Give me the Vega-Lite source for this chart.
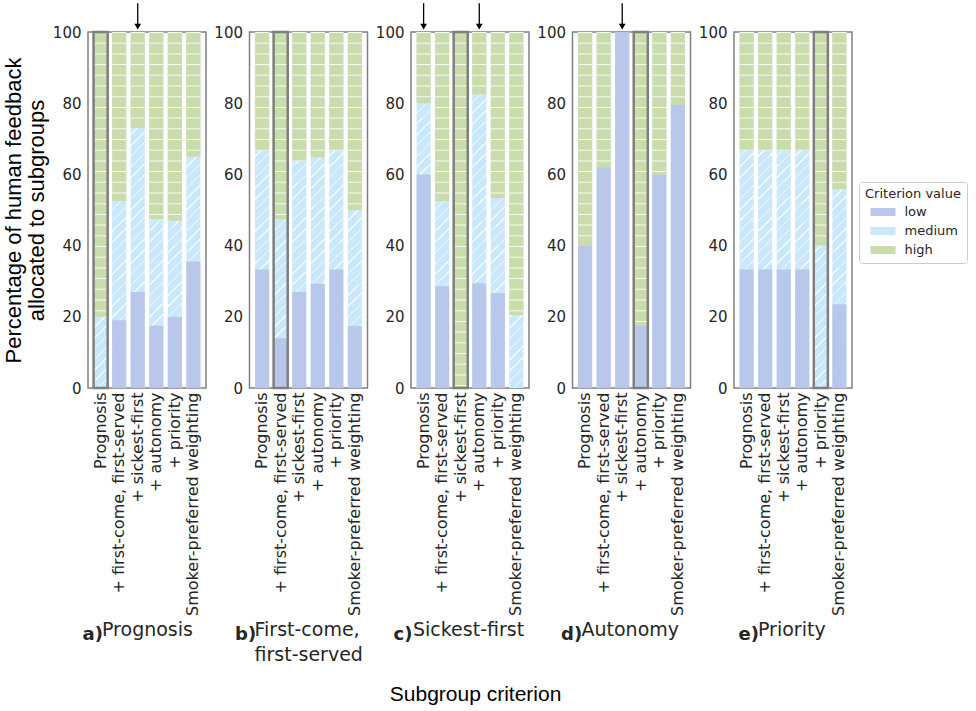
{
"$schema": "https://vega.github.io/schema/vega-lite/v6.json",
"padding": {"left": 1, "top": 1, "right": 5, "bottom": 5},
"datasets": {
"levels": [{"level":"low","rank":1},{"level":"medium","rank":2},{"level":"high","rank":3}],
"highlights": [{"panel":"a","label":"Prognosis"},{"panel":"b","label":"+ first-come, first-served"},{"panel":"c","label":"+ sickest-first"},{"panel":"d","label":"+ autonomy"},{"panel":"e","label":"+ priority"}],
"arrows": [{"panel":"a","label":"+ sickest-first"},{"panel":"c","label":"Prognosis"},{"panel":"c","label":"+ autonomy"},{"panel":"d","label":"+ sickest-first"}],
"bars": [
{"panel":"a","label":"Prognosis","level":"low","value":0},{"panel":"a","label":"Prognosis","level":"medium","value":20},{"panel":"a","label":"Prognosis","level":"high","value":80},
{"panel":"a","label":"+ first-come, first-served","level":"low","value":19},{"panel":"a","label":"+ first-come, first-served","level":"medium","value":33.5},{"panel":"a","label":"+ first-come, first-served","level":"high","value":47.5},
{"panel":"a","label":"+ sickest-first","level":"low","value":27},{"panel":"a","label":"+ sickest-first","level":"medium","value":46},{"panel":"a","label":"+ sickest-first","level":"high","value":27},
{"panel":"a","label":"+ autonomy","level":"low","value":17.5},{"panel":"a","label":"+ autonomy","level":"medium","value":30},{"panel":"a","label":"+ autonomy","level":"high","value":52.5},
{"panel":"a","label":"+ priority","level":"low","value":20},{"panel":"a","label":"+ priority","level":"medium","value":27},{"panel":"a","label":"+ priority","level":"high","value":53},
{"panel":"a","label":"Smoker-preferred weighting","level":"low","value":35.5},{"panel":"a","label":"Smoker-preferred weighting","level":"medium","value":29.5},{"panel":"a","label":"Smoker-preferred weighting","level":"high","value":35},
{"panel":"b","label":"Prognosis","level":"low","value":33.3},{"panel":"b","label":"Prognosis","level":"medium","value":33.4},{"panel":"b","label":"Prognosis","level":"high","value":33.3},
{"panel":"b","label":"+ first-come, first-served","level":"low","value":14},{"panel":"b","label":"+ first-come, first-served","level":"medium","value":33.5},{"panel":"b","label":"+ first-come, first-served","level":"high","value":52.5},
{"panel":"b","label":"+ sickest-first","level":"low","value":27},{"panel":"b","label":"+ sickest-first","level":"medium","value":36.7},{"panel":"b","label":"+ sickest-first","level":"high","value":36.3},
{"panel":"b","label":"+ autonomy","level":"low","value":29.3},{"panel":"b","label":"+ autonomy","level":"medium","value":35.5},{"panel":"b","label":"+ autonomy","level":"high","value":35.2},
{"panel":"b","label":"+ priority","level":"low","value":33.3},{"panel":"b","label":"+ priority","level":"medium","value":33.4},{"panel":"b","label":"+ priority","level":"high","value":33.3},
{"panel":"b","label":"Smoker-preferred weighting","level":"low","value":17.4},{"panel":"b","label":"Smoker-preferred weighting","level":"medium","value":32.6},{"panel":"b","label":"Smoker-preferred weighting","level":"high","value":50},
{"panel":"c","label":"Prognosis","level":"low","value":60},{"panel":"c","label":"Prognosis","level":"medium","value":20},{"panel":"c","label":"Prognosis","level":"high","value":20},
{"panel":"c","label":"+ first-come, first-served","level":"low","value":28.6},{"panel":"c","label":"+ first-come, first-served","level":"medium","value":23.9},{"panel":"c","label":"+ first-come, first-served","level":"high","value":47.5},
{"panel":"c","label":"+ sickest-first","level":"low","value":0},{"panel":"c","label":"+ sickest-first","level":"medium","value":0},{"panel":"c","label":"+ sickest-first","level":"high","value":100},
{"panel":"c","label":"+ autonomy","level":"low","value":29.4},{"panel":"c","label":"+ autonomy","level":"medium","value":53.1},{"panel":"c","label":"+ autonomy","level":"high","value":17.5},
{"panel":"c","label":"+ priority","level":"low","value":26.7},{"panel":"c","label":"+ priority","level":"medium","value":26.6},{"panel":"c","label":"+ priority","level":"high","value":46.7},
{"panel":"c","label":"Smoker-preferred weighting","level":"low","value":0},{"panel":"c","label":"Smoker-preferred weighting","level":"medium","value":20.5},{"panel":"c","label":"Smoker-preferred weighting","level":"high","value":79.5},
{"panel":"d","label":"Prognosis","level":"low","value":40},{"panel":"d","label":"Prognosis","level":"medium","value":0},{"panel":"d","label":"Prognosis","level":"high","value":60},
{"panel":"d","label":"+ first-come, first-served","level":"low","value":62},{"panel":"d","label":"+ first-come, first-served","level":"medium","value":0},{"panel":"d","label":"+ first-come, first-served","level":"high","value":38},
{"panel":"d","label":"+ sickest-first","level":"low","value":100},{"panel":"d","label":"+ sickest-first","level":"medium","value":0},{"panel":"d","label":"+ sickest-first","level":"high","value":0},
{"panel":"d","label":"+ autonomy","level":"low","value":17.6},{"panel":"d","label":"+ autonomy","level":"medium","value":0},{"panel":"d","label":"+ autonomy","level":"high","value":82.4},
{"panel":"d","label":"+ priority","level":"low","value":60},{"panel":"d","label":"+ priority","level":"medium","value":0},{"panel":"d","label":"+ priority","level":"high","value":40},
{"panel":"d","label":"Smoker-preferred weighting","level":"low","value":79.5},{"panel":"d","label":"Smoker-preferred weighting","level":"medium","value":0},{"panel":"d","label":"Smoker-preferred weighting","level":"high","value":20.5},
{"panel":"e","label":"Prognosis","level":"low","value":33.3},{"panel":"e","label":"Prognosis","level":"medium","value":33.4},{"panel":"e","label":"Prognosis","level":"high","value":33.3},
{"panel":"e","label":"+ first-come, first-served","level":"low","value":33.3},{"panel":"e","label":"+ first-come, first-served","level":"medium","value":33.4},{"panel":"e","label":"+ first-come, first-served","level":"high","value":33.3},
{"panel":"e","label":"+ sickest-first","level":"low","value":33.3},{"panel":"e","label":"+ sickest-first","level":"medium","value":33.4},{"panel":"e","label":"+ sickest-first","level":"high","value":33.3},
{"panel":"e","label":"+ autonomy","level":"low","value":33.3},{"panel":"e","label":"+ autonomy","level":"medium","value":33.4},{"panel":"e","label":"+ autonomy","level":"high","value":33.3},
{"panel":"e","label":"+ priority","level":"low","value":0},{"panel":"e","label":"+ priority","level":"medium","value":40},{"panel":"e","label":"+ priority","level":"high","value":60},
{"panel":"e","label":"Smoker-preferred weighting","level":"low","value":23.5},{"panel":"e","label":"Smoker-preferred weighting","level":"medium","value":32.4},{"panel":"e","label":"Smoker-preferred weighting","level":"high","value":44.1}
]
},
"title": {"text": "Subgroup criterion", "orient": "bottom", "anchor": "middle", "dx": -9, "font": "Liberation Sans", "fontSize": 21, "fontWeight": "normal", "color": "black", "offset": 18},
"spacing": 5.5,
"resolve": {"scale": {"color": "shared"}, "legend": {"color": "shared"}},
"hconcat": [
{
"width": 118, "height": 356,
"title": {"text": "Prognosis", "orient": "bottom", "anchor": "start", "frame": "group", "dx": 14, "offset": -22, "font": "DejaVu Sans", "fontSize": 19, "fontWeight": "normal", "color": "#262626"},
"layer": [
{"data": {"name": "bars"}, "transform": [{"filter": "datum.panel == 'a' && datum.level == 'medium'"}],
 "mark": {"type": "bar", "color": "#c9e8fc"},
 "encoding": {
  "x": {"field": "label", "type": "nominal", "sort": ["Prognosis","+ first-come, first-served","+ sickest-first","+ autonomy","+ priority","Smoker-preferred weighting"], "scale": {"type": "band", "paddingInner": 0.24, "paddingOuter": 0.3}, "axis": {"title": "a)", "titleX": -6, "titleY": 246, "titleAlign": "left", "titleBaseline": "middle"}},
  "y": {"datum": 0, "type": "quantitative", "scale": {"domain": [0, 100], "nice": false}, "axis": {"title": ["Percentage of human feedback", "allocated to subgroups"]}},
  "y2": {"datum": 100}}},
{"data": {"name": "bars"}, "transform": [{"filter": "datum.panel == 'a' && datum.level == 'medium'"}],
 "mark": {"type": "bar", "fillOpacity": 0.8, "fill": {"gradient": "linear", "x1": 0, "y1": 0, "x2": 0.0408, "y2": 1.0378, "stops": [
{"offset":0.015,"color":"transparent"},{"offset":0.015,"color":"white"},{"offset":0.019,"color":"white"},{"offset":0.019,"color":"transparent"},
{"offset":0.044,"color":"transparent"},{"offset":0.044,"color":"white"},{"offset":0.048,"color":"white"},{"offset":0.048,"color":"transparent"},
{"offset":0.073,"color":"transparent"},{"offset":0.073,"color":"white"},{"offset":0.077,"color":"white"},{"offset":0.077,"color":"transparent"},
{"offset":0.102,"color":"transparent"},{"offset":0.102,"color":"white"},{"offset":0.106,"color":"white"},{"offset":0.106,"color":"transparent"},
{"offset":0.131,"color":"transparent"},{"offset":0.131,"color":"white"},{"offset":0.135,"color":"white"},{"offset":0.135,"color":"transparent"},
{"offset":0.160,"color":"transparent"},{"offset":0.160,"color":"white"},{"offset":0.164,"color":"white"},{"offset":0.164,"color":"transparent"},
{"offset":0.189,"color":"transparent"},{"offset":0.189,"color":"white"},{"offset":0.193,"color":"white"},{"offset":0.193,"color":"transparent"},
{"offset":0.218,"color":"transparent"},{"offset":0.218,"color":"white"},{"offset":0.222,"color":"white"},{"offset":0.222,"color":"transparent"},
{"offset":0.247,"color":"transparent"},{"offset":0.247,"color":"white"},{"offset":0.251,"color":"white"},{"offset":0.251,"color":"transparent"},
{"offset":0.276,"color":"transparent"},{"offset":0.276,"color":"white"},{"offset":0.280,"color":"white"},{"offset":0.280,"color":"transparent"},
{"offset":0.305,"color":"transparent"},{"offset":0.305,"color":"white"},{"offset":0.309,"color":"white"},{"offset":0.309,"color":"transparent"},
{"offset":0.334,"color":"transparent"},{"offset":0.334,"color":"white"},{"offset":0.338,"color":"white"},{"offset":0.338,"color":"transparent"},
{"offset":0.363,"color":"transparent"},{"offset":0.363,"color":"white"},{"offset":0.367,"color":"white"},{"offset":0.367,"color":"transparent"},
{"offset":0.392,"color":"transparent"},{"offset":0.392,"color":"white"},{"offset":0.396,"color":"white"},{"offset":0.396,"color":"transparent"},
{"offset":0.421,"color":"transparent"},{"offset":0.421,"color":"white"},{"offset":0.425,"color":"white"},{"offset":0.425,"color":"transparent"},
{"offset":0.450,"color":"transparent"},{"offset":0.450,"color":"white"},{"offset":0.454,"color":"white"},{"offset":0.454,"color":"transparent"},
{"offset":0.479,"color":"transparent"},{"offset":0.479,"color":"white"},{"offset":0.483,"color":"white"},{"offset":0.483,"color":"transparent"},
{"offset":0.508,"color":"transparent"},{"offset":0.508,"color":"white"},{"offset":0.512,"color":"white"},{"offset":0.512,"color":"transparent"},
{"offset":0.537,"color":"transparent"},{"offset":0.537,"color":"white"},{"offset":0.541,"color":"white"},{"offset":0.541,"color":"transparent"},
{"offset":0.566,"color":"transparent"},{"offset":0.566,"color":"white"},{"offset":0.570,"color":"white"},{"offset":0.570,"color":"transparent"},
{"offset":0.595,"color":"transparent"},{"offset":0.595,"color":"white"},{"offset":0.599,"color":"white"},{"offset":0.599,"color":"transparent"},
{"offset":0.624,"color":"transparent"},{"offset":0.624,"color":"white"},{"offset":0.628,"color":"white"},{"offset":0.628,"color":"transparent"},
{"offset":0.653,"color":"transparent"},{"offset":0.653,"color":"white"},{"offset":0.657,"color":"white"},{"offset":0.657,"color":"transparent"},
{"offset":0.682,"color":"transparent"},{"offset":0.682,"color":"white"},{"offset":0.686,"color":"white"},{"offset":0.686,"color":"transparent"},
{"offset":0.711,"color":"transparent"},{"offset":0.711,"color":"white"},{"offset":0.715,"color":"white"},{"offset":0.715,"color":"transparent"},
{"offset":0.740,"color":"transparent"},{"offset":0.740,"color":"white"},{"offset":0.744,"color":"white"},{"offset":0.744,"color":"transparent"},
{"offset":0.769,"color":"transparent"},{"offset":0.769,"color":"white"},{"offset":0.773,"color":"white"},{"offset":0.773,"color":"transparent"},
{"offset":0.798,"color":"transparent"},{"offset":0.798,"color":"white"},{"offset":0.802,"color":"white"},{"offset":0.802,"color":"transparent"},
{"offset":0.827,"color":"transparent"},{"offset":0.827,"color":"white"},{"offset":0.831,"color":"white"},{"offset":0.831,"color":"transparent"},
{"offset":0.856,"color":"transparent"},{"offset":0.856,"color":"white"},{"offset":0.860,"color":"white"},{"offset":0.860,"color":"transparent"},
{"offset":0.885,"color":"transparent"},{"offset":0.885,"color":"white"},{"offset":0.889,"color":"white"},{"offset":0.889,"color":"transparent"},
{"offset":0.914,"color":"transparent"},{"offset":0.914,"color":"white"},{"offset":0.918,"color":"white"},{"offset":0.918,"color":"transparent"},
{"offset":0.943,"color":"transparent"},{"offset":0.943,"color":"white"},{"offset":0.947,"color":"white"},{"offset":0.947,"color":"transparent"},
{"offset":0.972,"color":"transparent"},{"offset":0.972,"color":"white"},{"offset":0.976,"color":"white"},{"offset":0.976,"color":"transparent"}
]}},
 "encoding": {
  "x": {"field": "label", "type": "nominal", "sort": ["Prognosis","+ first-come, first-served","+ sickest-first","+ autonomy","+ priority","Smoker-preferred weighting"]},
  "y": {"datum": 0, "type": "quantitative", "scale": {"domain": [0, 100], "nice": false}},
  "y2": {"datum": 100}}},
{"data": {"name": "bars"}, "transform": [{"filter": "datum.panel == 'a'"}, {"lookup": "level", "from": {"data": {"name": "levels"}, "key": "level", "fields": ["rank"]}}, {"stack": "value", "groupby": ["label"], "sort": [{"field": "rank", "order": "ascending"}], "as": ["v0", "v1"]}, {"filter": "datum.level != 'medium'"}],
 "mark": {"type": "bar"},
 "encoding": {
  "x": {"field": "label", "type": "nominal", "sort": ["Prognosis","+ first-come, first-served","+ sickest-first","+ autonomy","+ priority","Smoker-preferred weighting"]},
  "y": {"field": "v0", "type": "quantitative", "scale": {"domain": [0, 100], "nice": false}},
  "y2": {"field": "v1"},
  "color": {"field": "level", "type": "nominal", "scale": {"domain": ["low","medium","high"], "range": ["#b9c7ea","#c9e8fc","#cadcab"]}, "legend": {"title": "Criterion value"}}}},
{"data": {"name": "bars"}, "transform": [{"filter": "datum.panel == 'a'"}, {"lookup": "level", "from": {"data": {"name": "levels"}, "key": "level", "fields": ["rank"]}}, {"stack": "value", "groupby": ["label"], "sort": [{"field": "rank", "order": "ascending"}], "as": ["v0", "v1"]}, {"filter": "datum.level == 'high'"}],
 "mark": {"type": "rule", "color": "white", "strokeWidth": 14, "strokeDash": [1, 9.7], "opacity": 0.85},
 "encoding": {
  "x": {"field": "label", "type": "nominal", "sort": ["Prognosis","+ first-come, first-served","+ sickest-first","+ autonomy","+ priority","Smoker-preferred weighting"]},
  "y": {"field": "v1", "type": "quantitative", "scale": {"domain": [0, 100], "nice": false}},
  "y2": {"field": "v0"}}},
{"data": {"name": "highlights"}, "transform": [{"filter": "datum.panel == 'a'"}],
 "mark": {"type": "bar", "fillOpacity": 0, "stroke": "#7f7f7f", "strokeWidth": 2.5},
 "encoding": {
  "x": {"field": "label", "type": "nominal", "sort": ["Prognosis","+ first-come, first-served","+ sickest-first","+ autonomy","+ priority","Smoker-preferred weighting"]},
  "y": {"datum": 0, "type": "quantitative", "scale": {"domain": [0, 100], "nice": false}},
  "y2": {"datum": 100}}},
{"data": {"name": "arrows"}, "transform": [{"filter": "datum.panel == 'a'"}],
 "mark": {"type": "rule", "color": "black", "strokeWidth": 1.3},
 "encoding": {
  "x": {"field": "label", "type": "nominal", "sort": ["Prognosis","+ first-come, first-served","+ sickest-first","+ autonomy","+ priority","Smoker-preferred weighting"]},
  "y": {"datum": 101.5, "type": "quantitative", "scale": {"domain": [0, 100], "nice": false}},
  "y2": {"datum": 108.1}}},
{"data": {"name": "arrows"}, "transform": [{"filter": "datum.panel == 'a'"}],
 "mark": {"type": "point", "shape": "triangle-down", "filled": true, "color": "black", "size": 45, "opacity": 1},
 "encoding": {
  "x": {"field": "label", "type": "nominal", "sort": ["Prognosis","+ first-come, first-served","+ sickest-first","+ autonomy","+ priority","Smoker-preferred weighting"]},
  "y": {"datum": 101.5, "type": "quantitative", "scale": {"domain": [0, 100], "nice": false}}}}
]
},
{
"width": 118, "height": 356,
"title": {"text": ["First-come,", "first-served"], "orient": "bottom", "anchor": "start", "frame": "group", "dx": 5, "offset": -22, "font": "DejaVu Sans", "fontSize": 19, "fontWeight": "normal", "color": "#262626", "lineHeight": 25},
"layer": [
{"data": {"name": "bars"}, "transform": [{"filter": "datum.panel == 'b' && datum.level == 'medium'"}],
 "mark": {"type": "bar", "color": "#c9e8fc"},
 "encoding": {
  "x": {"field": "label", "type": "nominal", "sort": ["Prognosis","+ first-come, first-served","+ sickest-first","+ autonomy","+ priority","Smoker-preferred weighting"], "scale": {"type": "band", "paddingInner": 0.24, "paddingOuter": 0.3}, "axis": {"title": "b)", "titleX": -15, "titleY": 246, "titleAlign": "left", "titleBaseline": "middle"}},
  "y": {"datum": 0, "type": "quantitative", "scale": {"domain": [0, 100], "nice": false}, "axis": {"title": null}},
  "y2": {"datum": 100}}},
{"data": {"name": "bars"}, "transform": [{"filter": "datum.panel == 'b' && datum.level == 'medium'"}],
 "mark": {"type": "bar", "fillOpacity": 0.8, "fill": {"gradient": "linear", "x1": 0, "y1": 0, "x2": 0.0408, "y2": 1.0378, "stops": [
{"offset":0.015,"color":"transparent"},{"offset":0.015,"color":"white"},{"offset":0.019,"color":"white"},{"offset":0.019,"color":"transparent"},
{"offset":0.044,"color":"transparent"},{"offset":0.044,"color":"white"},{"offset":0.048,"color":"white"},{"offset":0.048,"color":"transparent"},
{"offset":0.073,"color":"transparent"},{"offset":0.073,"color":"white"},{"offset":0.077,"color":"white"},{"offset":0.077,"color":"transparent"},
{"offset":0.102,"color":"transparent"},{"offset":0.102,"color":"white"},{"offset":0.106,"color":"white"},{"offset":0.106,"color":"transparent"},
{"offset":0.131,"color":"transparent"},{"offset":0.131,"color":"white"},{"offset":0.135,"color":"white"},{"offset":0.135,"color":"transparent"},
{"offset":0.160,"color":"transparent"},{"offset":0.160,"color":"white"},{"offset":0.164,"color":"white"},{"offset":0.164,"color":"transparent"},
{"offset":0.189,"color":"transparent"},{"offset":0.189,"color":"white"},{"offset":0.193,"color":"white"},{"offset":0.193,"color":"transparent"},
{"offset":0.218,"color":"transparent"},{"offset":0.218,"color":"white"},{"offset":0.222,"color":"white"},{"offset":0.222,"color":"transparent"},
{"offset":0.247,"color":"transparent"},{"offset":0.247,"color":"white"},{"offset":0.251,"color":"white"},{"offset":0.251,"color":"transparent"},
{"offset":0.276,"color":"transparent"},{"offset":0.276,"color":"white"},{"offset":0.280,"color":"white"},{"offset":0.280,"color":"transparent"},
{"offset":0.305,"color":"transparent"},{"offset":0.305,"color":"white"},{"offset":0.309,"color":"white"},{"offset":0.309,"color":"transparent"},
{"offset":0.334,"color":"transparent"},{"offset":0.334,"color":"white"},{"offset":0.338,"color":"white"},{"offset":0.338,"color":"transparent"},
{"offset":0.363,"color":"transparent"},{"offset":0.363,"color":"white"},{"offset":0.367,"color":"white"},{"offset":0.367,"color":"transparent"},
{"offset":0.392,"color":"transparent"},{"offset":0.392,"color":"white"},{"offset":0.396,"color":"white"},{"offset":0.396,"color":"transparent"},
{"offset":0.421,"color":"transparent"},{"offset":0.421,"color":"white"},{"offset":0.425,"color":"white"},{"offset":0.425,"color":"transparent"},
{"offset":0.450,"color":"transparent"},{"offset":0.450,"color":"white"},{"offset":0.454,"color":"white"},{"offset":0.454,"color":"transparent"},
{"offset":0.479,"color":"transparent"},{"offset":0.479,"color":"white"},{"offset":0.483,"color":"white"},{"offset":0.483,"color":"transparent"},
{"offset":0.508,"color":"transparent"},{"offset":0.508,"color":"white"},{"offset":0.512,"color":"white"},{"offset":0.512,"color":"transparent"},
{"offset":0.537,"color":"transparent"},{"offset":0.537,"color":"white"},{"offset":0.541,"color":"white"},{"offset":0.541,"color":"transparent"},
{"offset":0.566,"color":"transparent"},{"offset":0.566,"color":"white"},{"offset":0.570,"color":"white"},{"offset":0.570,"color":"transparent"},
{"offset":0.595,"color":"transparent"},{"offset":0.595,"color":"white"},{"offset":0.599,"color":"white"},{"offset":0.599,"color":"transparent"},
{"offset":0.624,"color":"transparent"},{"offset":0.624,"color":"white"},{"offset":0.628,"color":"white"},{"offset":0.628,"color":"transparent"},
{"offset":0.653,"color":"transparent"},{"offset":0.653,"color":"white"},{"offset":0.657,"color":"white"},{"offset":0.657,"color":"transparent"},
{"offset":0.682,"color":"transparent"},{"offset":0.682,"color":"white"},{"offset":0.686,"color":"white"},{"offset":0.686,"color":"transparent"},
{"offset":0.711,"color":"transparent"},{"offset":0.711,"color":"white"},{"offset":0.715,"color":"white"},{"offset":0.715,"color":"transparent"},
{"offset":0.740,"color":"transparent"},{"offset":0.740,"color":"white"},{"offset":0.744,"color":"white"},{"offset":0.744,"color":"transparent"},
{"offset":0.769,"color":"transparent"},{"offset":0.769,"color":"white"},{"offset":0.773,"color":"white"},{"offset":0.773,"color":"transparent"},
{"offset":0.798,"color":"transparent"},{"offset":0.798,"color":"white"},{"offset":0.802,"color":"white"},{"offset":0.802,"color":"transparent"},
{"offset":0.827,"color":"transparent"},{"offset":0.827,"color":"white"},{"offset":0.831,"color":"white"},{"offset":0.831,"color":"transparent"},
{"offset":0.856,"color":"transparent"},{"offset":0.856,"color":"white"},{"offset":0.860,"color":"white"},{"offset":0.860,"color":"transparent"},
{"offset":0.885,"color":"transparent"},{"offset":0.885,"color":"white"},{"offset":0.889,"color":"white"},{"offset":0.889,"color":"transparent"},
{"offset":0.914,"color":"transparent"},{"offset":0.914,"color":"white"},{"offset":0.918,"color":"white"},{"offset":0.918,"color":"transparent"},
{"offset":0.943,"color":"transparent"},{"offset":0.943,"color":"white"},{"offset":0.947,"color":"white"},{"offset":0.947,"color":"transparent"},
{"offset":0.972,"color":"transparent"},{"offset":0.972,"color":"white"},{"offset":0.976,"color":"white"},{"offset":0.976,"color":"transparent"}
]}},
 "encoding": {
  "x": {"field": "label", "type": "nominal", "sort": ["Prognosis","+ first-come, first-served","+ sickest-first","+ autonomy","+ priority","Smoker-preferred weighting"]},
  "y": {"datum": 0, "type": "quantitative", "scale": {"domain": [0, 100], "nice": false}},
  "y2": {"datum": 100}}},
{"data": {"name": "bars"}, "transform": [{"filter": "datum.panel == 'b'"}, {"lookup": "level", "from": {"data": {"name": "levels"}, "key": "level", "fields": ["rank"]}}, {"stack": "value", "groupby": ["label"], "sort": [{"field": "rank", "order": "ascending"}], "as": ["v0", "v1"]}, {"filter": "datum.level != 'medium'"}],
 "mark": {"type": "bar"},
 "encoding": {
  "x": {"field": "label", "type": "nominal", "sort": ["Prognosis","+ first-come, first-served","+ sickest-first","+ autonomy","+ priority","Smoker-preferred weighting"]},
  "y": {"field": "v0", "type": "quantitative", "scale": {"domain": [0, 100], "nice": false}},
  "y2": {"field": "v1"},
  "color": {"field": "level", "type": "nominal", "scale": {"domain": ["low","medium","high"], "range": ["#b9c7ea","#c9e8fc","#cadcab"]}, "legend": {"title": "Criterion value"}}}},
{"data": {"name": "bars"}, "transform": [{"filter": "datum.panel == 'b'"}, {"lookup": "level", "from": {"data": {"name": "levels"}, "key": "level", "fields": ["rank"]}}, {"stack": "value", "groupby": ["label"], "sort": [{"field": "rank", "order": "ascending"}], "as": ["v0", "v1"]}, {"filter": "datum.level == 'high'"}],
 "mark": {"type": "rule", "color": "white", "strokeWidth": 14, "strokeDash": [1, 9.7], "opacity": 0.85},
 "encoding": {
  "x": {"field": "label", "type": "nominal", "sort": ["Prognosis","+ first-come, first-served","+ sickest-first","+ autonomy","+ priority","Smoker-preferred weighting"]},
  "y": {"field": "v1", "type": "quantitative", "scale": {"domain": [0, 100], "nice": false}},
  "y2": {"field": "v0"}}},
{"data": {"name": "highlights"}, "transform": [{"filter": "datum.panel == 'b'"}],
 "mark": {"type": "bar", "fillOpacity": 0, "stroke": "#7f7f7f", "strokeWidth": 2.5},
 "encoding": {
  "x": {"field": "label", "type": "nominal", "sort": ["Prognosis","+ first-come, first-served","+ sickest-first","+ autonomy","+ priority","Smoker-preferred weighting"]},
  "y": {"datum": 0, "type": "quantitative", "scale": {"domain": [0, 100], "nice": false}},
  "y2": {"datum": 100}}}
]
},
{
"width": 118, "height": 356,
"title": {"text": "Sickest-first", "orient": "bottom", "anchor": "start", "frame": "group", "dx": 2, "offset": -22, "font": "DejaVu Sans", "fontSize": 19, "fontWeight": "normal", "color": "#262626"},
"layer": [
{"data": {"name": "bars"}, "transform": [{"filter": "datum.panel == 'c' && datum.level == 'medium'"}],
 "mark": {"type": "bar", "color": "#c9e8fc"},
 "encoding": {
  "x": {"field": "label", "type": "nominal", "sort": ["Prognosis","+ first-come, first-served","+ sickest-first","+ autonomy","+ priority","Smoker-preferred weighting"], "scale": {"type": "band", "paddingInner": 0.24, "paddingOuter": 0.3}, "axis": {"title": "c)", "titleX": -18, "titleY": 246, "titleAlign": "left", "titleBaseline": "middle"}},
  "y": {"datum": 0, "type": "quantitative", "scale": {"domain": [0, 100], "nice": false}, "axis": {"title": null}},
  "y2": {"datum": 100}}},
{"data": {"name": "bars"}, "transform": [{"filter": "datum.panel == 'c' && datum.level == 'medium'"}],
 "mark": {"type": "bar", "fillOpacity": 0.8, "fill": {"gradient": "linear", "x1": 0, "y1": 0, "x2": 0.0408, "y2": 1.0378, "stops": [
{"offset":0.015,"color":"transparent"},{"offset":0.015,"color":"white"},{"offset":0.019,"color":"white"},{"offset":0.019,"color":"transparent"},
{"offset":0.044,"color":"transparent"},{"offset":0.044,"color":"white"},{"offset":0.048,"color":"white"},{"offset":0.048,"color":"transparent"},
{"offset":0.073,"color":"transparent"},{"offset":0.073,"color":"white"},{"offset":0.077,"color":"white"},{"offset":0.077,"color":"transparent"},
{"offset":0.102,"color":"transparent"},{"offset":0.102,"color":"white"},{"offset":0.106,"color":"white"},{"offset":0.106,"color":"transparent"},
{"offset":0.131,"color":"transparent"},{"offset":0.131,"color":"white"},{"offset":0.135,"color":"white"},{"offset":0.135,"color":"transparent"},
{"offset":0.160,"color":"transparent"},{"offset":0.160,"color":"white"},{"offset":0.164,"color":"white"},{"offset":0.164,"color":"transparent"},
{"offset":0.189,"color":"transparent"},{"offset":0.189,"color":"white"},{"offset":0.193,"color":"white"},{"offset":0.193,"color":"transparent"},
{"offset":0.218,"color":"transparent"},{"offset":0.218,"color":"white"},{"offset":0.222,"color":"white"},{"offset":0.222,"color":"transparent"},
{"offset":0.247,"color":"transparent"},{"offset":0.247,"color":"white"},{"offset":0.251,"color":"white"},{"offset":0.251,"color":"transparent"},
{"offset":0.276,"color":"transparent"},{"offset":0.276,"color":"white"},{"offset":0.280,"color":"white"},{"offset":0.280,"color":"transparent"},
{"offset":0.305,"color":"transparent"},{"offset":0.305,"color":"white"},{"offset":0.309,"color":"white"},{"offset":0.309,"color":"transparent"},
{"offset":0.334,"color":"transparent"},{"offset":0.334,"color":"white"},{"offset":0.338,"color":"white"},{"offset":0.338,"color":"transparent"},
{"offset":0.363,"color":"transparent"},{"offset":0.363,"color":"white"},{"offset":0.367,"color":"white"},{"offset":0.367,"color":"transparent"},
{"offset":0.392,"color":"transparent"},{"offset":0.392,"color":"white"},{"offset":0.396,"color":"white"},{"offset":0.396,"color":"transparent"},
{"offset":0.421,"color":"transparent"},{"offset":0.421,"color":"white"},{"offset":0.425,"color":"white"},{"offset":0.425,"color":"transparent"},
{"offset":0.450,"color":"transparent"},{"offset":0.450,"color":"white"},{"offset":0.454,"color":"white"},{"offset":0.454,"color":"transparent"},
{"offset":0.479,"color":"transparent"},{"offset":0.479,"color":"white"},{"offset":0.483,"color":"white"},{"offset":0.483,"color":"transparent"},
{"offset":0.508,"color":"transparent"},{"offset":0.508,"color":"white"},{"offset":0.512,"color":"white"},{"offset":0.512,"color":"transparent"},
{"offset":0.537,"color":"transparent"},{"offset":0.537,"color":"white"},{"offset":0.541,"color":"white"},{"offset":0.541,"color":"transparent"},
{"offset":0.566,"color":"transparent"},{"offset":0.566,"color":"white"},{"offset":0.570,"color":"white"},{"offset":0.570,"color":"transparent"},
{"offset":0.595,"color":"transparent"},{"offset":0.595,"color":"white"},{"offset":0.599,"color":"white"},{"offset":0.599,"color":"transparent"},
{"offset":0.624,"color":"transparent"},{"offset":0.624,"color":"white"},{"offset":0.628,"color":"white"},{"offset":0.628,"color":"transparent"},
{"offset":0.653,"color":"transparent"},{"offset":0.653,"color":"white"},{"offset":0.657,"color":"white"},{"offset":0.657,"color":"transparent"},
{"offset":0.682,"color":"transparent"},{"offset":0.682,"color":"white"},{"offset":0.686,"color":"white"},{"offset":0.686,"color":"transparent"},
{"offset":0.711,"color":"transparent"},{"offset":0.711,"color":"white"},{"offset":0.715,"color":"white"},{"offset":0.715,"color":"transparent"},
{"offset":0.740,"color":"transparent"},{"offset":0.740,"color":"white"},{"offset":0.744,"color":"white"},{"offset":0.744,"color":"transparent"},
{"offset":0.769,"color":"transparent"},{"offset":0.769,"color":"white"},{"offset":0.773,"color":"white"},{"offset":0.773,"color":"transparent"},
{"offset":0.798,"color":"transparent"},{"offset":0.798,"color":"white"},{"offset":0.802,"color":"white"},{"offset":0.802,"color":"transparent"},
{"offset":0.827,"color":"transparent"},{"offset":0.827,"color":"white"},{"offset":0.831,"color":"white"},{"offset":0.831,"color":"transparent"},
{"offset":0.856,"color":"transparent"},{"offset":0.856,"color":"white"},{"offset":0.860,"color":"white"},{"offset":0.860,"color":"transparent"},
{"offset":0.885,"color":"transparent"},{"offset":0.885,"color":"white"},{"offset":0.889,"color":"white"},{"offset":0.889,"color":"transparent"},
{"offset":0.914,"color":"transparent"},{"offset":0.914,"color":"white"},{"offset":0.918,"color":"white"},{"offset":0.918,"color":"transparent"},
{"offset":0.943,"color":"transparent"},{"offset":0.943,"color":"white"},{"offset":0.947,"color":"white"},{"offset":0.947,"color":"transparent"},
{"offset":0.972,"color":"transparent"},{"offset":0.972,"color":"white"},{"offset":0.976,"color":"white"},{"offset":0.976,"color":"transparent"}
]}},
 "encoding": {
  "x": {"field": "label", "type": "nominal", "sort": ["Prognosis","+ first-come, first-served","+ sickest-first","+ autonomy","+ priority","Smoker-preferred weighting"]},
  "y": {"datum": 0, "type": "quantitative", "scale": {"domain": [0, 100], "nice": false}},
  "y2": {"datum": 100}}},
{"data": {"name": "bars"}, "transform": [{"filter": "datum.panel == 'c'"}, {"lookup": "level", "from": {"data": {"name": "levels"}, "key": "level", "fields": ["rank"]}}, {"stack": "value", "groupby": ["label"], "sort": [{"field": "rank", "order": "ascending"}], "as": ["v0", "v1"]}, {"filter": "datum.level != 'medium'"}],
 "mark": {"type": "bar"},
 "encoding": {
  "x": {"field": "label", "type": "nominal", "sort": ["Prognosis","+ first-come, first-served","+ sickest-first","+ autonomy","+ priority","Smoker-preferred weighting"]},
  "y": {"field": "v0", "type": "quantitative", "scale": {"domain": [0, 100], "nice": false}},
  "y2": {"field": "v1"},
  "color": {"field": "level", "type": "nominal", "scale": {"domain": ["low","medium","high"], "range": ["#b9c7ea","#c9e8fc","#cadcab"]}, "legend": {"title": "Criterion value"}}}},
{"data": {"name": "bars"}, "transform": [{"filter": "datum.panel == 'c'"}, {"lookup": "level", "from": {"data": {"name": "levels"}, "key": "level", "fields": ["rank"]}}, {"stack": "value", "groupby": ["label"], "sort": [{"field": "rank", "order": "ascending"}], "as": ["v0", "v1"]}, {"filter": "datum.level == 'high'"}],
 "mark": {"type": "rule", "color": "white", "strokeWidth": 14, "strokeDash": [1, 9.7], "opacity": 0.85},
 "encoding": {
  "x": {"field": "label", "type": "nominal", "sort": ["Prognosis","+ first-come, first-served","+ sickest-first","+ autonomy","+ priority","Smoker-preferred weighting"]},
  "y": {"field": "v1", "type": "quantitative", "scale": {"domain": [0, 100], "nice": false}},
  "y2": {"field": "v0"}}},
{"data": {"name": "highlights"}, "transform": [{"filter": "datum.panel == 'c'"}],
 "mark": {"type": "bar", "fillOpacity": 0, "stroke": "#7f7f7f", "strokeWidth": 2.5},
 "encoding": {
  "x": {"field": "label", "type": "nominal", "sort": ["Prognosis","+ first-come, first-served","+ sickest-first","+ autonomy","+ priority","Smoker-preferred weighting"]},
  "y": {"datum": 0, "type": "quantitative", "scale": {"domain": [0, 100], "nice": false}},
  "y2": {"datum": 100}}},
{"data": {"name": "arrows"}, "transform": [{"filter": "datum.panel == 'c'"}],
 "mark": {"type": "rule", "color": "black", "strokeWidth": 1.3},
 "encoding": {
  "x": {"field": "label", "type": "nominal", "sort": ["Prognosis","+ first-come, first-served","+ sickest-first","+ autonomy","+ priority","Smoker-preferred weighting"]},
  "y": {"datum": 101.5, "type": "quantitative", "scale": {"domain": [0, 100], "nice": false}},
  "y2": {"datum": 108.1}}},
{"data": {"name": "arrows"}, "transform": [{"filter": "datum.panel == 'c'"}],
 "mark": {"type": "point", "shape": "triangle-down", "filled": true, "color": "black", "size": 45, "opacity": 1},
 "encoding": {
  "x": {"field": "label", "type": "nominal", "sort": ["Prognosis","+ first-come, first-served","+ sickest-first","+ autonomy","+ priority","Smoker-preferred weighting"]},
  "y": {"datum": 101.5, "type": "quantitative", "scale": {"domain": [0, 100], "nice": false}}}}
]
},
{
"width": 118, "height": 356,
"title": {"text": "Autonomy", "orient": "bottom", "anchor": "start", "frame": "group", "dx": 9, "offset": -22, "font": "DejaVu Sans", "fontSize": 19, "fontWeight": "normal", "color": "#262626"},
"layer": [
{"data": {"name": "bars"}, "transform": [{"filter": "datum.panel == 'd' && datum.level == 'medium'"}],
 "mark": {"type": "bar", "color": "#c9e8fc"},
 "encoding": {
  "x": {"field": "label", "type": "nominal", "sort": ["Prognosis","+ first-come, first-served","+ sickest-first","+ autonomy","+ priority","Smoker-preferred weighting"], "scale": {"type": "band", "paddingInner": 0.24, "paddingOuter": 0.3}, "axis": {"title": "d)", "titleX": -12, "titleY": 246, "titleAlign": "left", "titleBaseline": "middle"}},
  "y": {"datum": 0, "type": "quantitative", "scale": {"domain": [0, 100], "nice": false}, "axis": {"title": null}},
  "y2": {"datum": 100}}},
{"data": {"name": "bars"}, "transform": [{"filter": "datum.panel == 'd'"}, {"lookup": "level", "from": {"data": {"name": "levels"}, "key": "level", "fields": ["rank"]}}, {"stack": "value", "groupby": ["label"], "sort": [{"field": "rank", "order": "ascending"}], "as": ["v0", "v1"]}, {"filter": "datum.level != 'medium'"}],
 "mark": {"type": "bar"},
 "encoding": {
  "x": {"field": "label", "type": "nominal", "sort": ["Prognosis","+ first-come, first-served","+ sickest-first","+ autonomy","+ priority","Smoker-preferred weighting"]},
  "y": {"field": "v0", "type": "quantitative", "scale": {"domain": [0, 100], "nice": false}},
  "y2": {"field": "v1"},
  "color": {"field": "level", "type": "nominal", "scale": {"domain": ["low","medium","high"], "range": ["#b9c7ea","#c9e8fc","#cadcab"]}, "legend": {"title": "Criterion value"}}}},
{"data": {"name": "bars"}, "transform": [{"filter": "datum.panel == 'd'"}, {"lookup": "level", "from": {"data": {"name": "levels"}, "key": "level", "fields": ["rank"]}}, {"stack": "value", "groupby": ["label"], "sort": [{"field": "rank", "order": "ascending"}], "as": ["v0", "v1"]}, {"filter": "datum.level == 'high'"}],
 "mark": {"type": "rule", "color": "white", "strokeWidth": 14, "strokeDash": [1, 9.7], "opacity": 0.85},
 "encoding": {
  "x": {"field": "label", "type": "nominal", "sort": ["Prognosis","+ first-come, first-served","+ sickest-first","+ autonomy","+ priority","Smoker-preferred weighting"]},
  "y": {"field": "v1", "type": "quantitative", "scale": {"domain": [0, 100], "nice": false}},
  "y2": {"field": "v0"}}},
{"data": {"name": "highlights"}, "transform": [{"filter": "datum.panel == 'd'"}],
 "mark": {"type": "bar", "fillOpacity": 0, "stroke": "#7f7f7f", "strokeWidth": 2.5},
 "encoding": {
  "x": {"field": "label", "type": "nominal", "sort": ["Prognosis","+ first-come, first-served","+ sickest-first","+ autonomy","+ priority","Smoker-preferred weighting"]},
  "y": {"datum": 0, "type": "quantitative", "scale": {"domain": [0, 100], "nice": false}},
  "y2": {"datum": 100}}},
{"data": {"name": "arrows"}, "transform": [{"filter": "datum.panel == 'd'"}],
 "mark": {"type": "rule", "color": "black", "strokeWidth": 1.3},
 "encoding": {
  "x": {"field": "label", "type": "nominal", "sort": ["Prognosis","+ first-come, first-served","+ sickest-first","+ autonomy","+ priority","Smoker-preferred weighting"]},
  "y": {"datum": 101.5, "type": "quantitative", "scale": {"domain": [0, 100], "nice": false}},
  "y2": {"datum": 108.1}}},
{"data": {"name": "arrows"}, "transform": [{"filter": "datum.panel == 'd'"}],
 "mark": {"type": "point", "shape": "triangle-down", "filled": true, "color": "black", "size": 45, "opacity": 1},
 "encoding": {
  "x": {"field": "label", "type": "nominal", "sort": ["Prognosis","+ first-come, first-served","+ sickest-first","+ autonomy","+ priority","Smoker-preferred weighting"]},
  "y": {"datum": 101.5, "type": "quantitative", "scale": {"domain": [0, 100], "nice": false}}}}
]
},
{
"width": 118, "height": 356,
"title": {"text": "Priority", "orient": "bottom", "anchor": "start", "frame": "group", "dx": 24, "offset": -22, "font": "DejaVu Sans", "fontSize": 19, "fontWeight": "normal", "color": "#262626"},
"layer": [
{"data": {"name": "bars"}, "transform": [{"filter": "datum.panel == 'e' && datum.level == 'medium'"}],
 "mark": {"type": "bar", "color": "#c9e8fc"},
 "encoding": {
  "x": {"field": "label", "type": "nominal", "sort": ["Prognosis","+ first-come, first-served","+ sickest-first","+ autonomy","+ priority","Smoker-preferred weighting"], "scale": {"type": "band", "paddingInner": 0.24, "paddingOuter": 0.3}, "axis": {"title": "e)", "titleX": 4, "titleY": 246, "titleAlign": "left", "titleBaseline": "middle"}},
  "y": {"datum": 0, "type": "quantitative", "scale": {"domain": [0, 100], "nice": false}, "axis": {"title": null}},
  "y2": {"datum": 100}}},
{"data": {"name": "bars"}, "transform": [{"filter": "datum.panel == 'e' && datum.level == 'medium'"}],
 "mark": {"type": "bar", "fillOpacity": 0.8, "fill": {"gradient": "linear", "x1": 0, "y1": 0, "x2": 0.0408, "y2": 1.0378, "stops": [
{"offset":0.015,"color":"transparent"},{"offset":0.015,"color":"white"},{"offset":0.019,"color":"white"},{"offset":0.019,"color":"transparent"},
{"offset":0.044,"color":"transparent"},{"offset":0.044,"color":"white"},{"offset":0.048,"color":"white"},{"offset":0.048,"color":"transparent"},
{"offset":0.073,"color":"transparent"},{"offset":0.073,"color":"white"},{"offset":0.077,"color":"white"},{"offset":0.077,"color":"transparent"},
{"offset":0.102,"color":"transparent"},{"offset":0.102,"color":"white"},{"offset":0.106,"color":"white"},{"offset":0.106,"color":"transparent"},
{"offset":0.131,"color":"transparent"},{"offset":0.131,"color":"white"},{"offset":0.135,"color":"white"},{"offset":0.135,"color":"transparent"},
{"offset":0.160,"color":"transparent"},{"offset":0.160,"color":"white"},{"offset":0.164,"color":"white"},{"offset":0.164,"color":"transparent"},
{"offset":0.189,"color":"transparent"},{"offset":0.189,"color":"white"},{"offset":0.193,"color":"white"},{"offset":0.193,"color":"transparent"},
{"offset":0.218,"color":"transparent"},{"offset":0.218,"color":"white"},{"offset":0.222,"color":"white"},{"offset":0.222,"color":"transparent"},
{"offset":0.247,"color":"transparent"},{"offset":0.247,"color":"white"},{"offset":0.251,"color":"white"},{"offset":0.251,"color":"transparent"},
{"offset":0.276,"color":"transparent"},{"offset":0.276,"color":"white"},{"offset":0.280,"color":"white"},{"offset":0.280,"color":"transparent"},
{"offset":0.305,"color":"transparent"},{"offset":0.305,"color":"white"},{"offset":0.309,"color":"white"},{"offset":0.309,"color":"transparent"},
{"offset":0.334,"color":"transparent"},{"offset":0.334,"color":"white"},{"offset":0.338,"color":"white"},{"offset":0.338,"color":"transparent"},
{"offset":0.363,"color":"transparent"},{"offset":0.363,"color":"white"},{"offset":0.367,"color":"white"},{"offset":0.367,"color":"transparent"},
{"offset":0.392,"color":"transparent"},{"offset":0.392,"color":"white"},{"offset":0.396,"color":"white"},{"offset":0.396,"color":"transparent"},
{"offset":0.421,"color":"transparent"},{"offset":0.421,"color":"white"},{"offset":0.425,"color":"white"},{"offset":0.425,"color":"transparent"},
{"offset":0.450,"color":"transparent"},{"offset":0.450,"color":"white"},{"offset":0.454,"color":"white"},{"offset":0.454,"color":"transparent"},
{"offset":0.479,"color":"transparent"},{"offset":0.479,"color":"white"},{"offset":0.483,"color":"white"},{"offset":0.483,"color":"transparent"},
{"offset":0.508,"color":"transparent"},{"offset":0.508,"color":"white"},{"offset":0.512,"color":"white"},{"offset":0.512,"color":"transparent"},
{"offset":0.537,"color":"transparent"},{"offset":0.537,"color":"white"},{"offset":0.541,"color":"white"},{"offset":0.541,"color":"transparent"},
{"offset":0.566,"color":"transparent"},{"offset":0.566,"color":"white"},{"offset":0.570,"color":"white"},{"offset":0.570,"color":"transparent"},
{"offset":0.595,"color":"transparent"},{"offset":0.595,"color":"white"},{"offset":0.599,"color":"white"},{"offset":0.599,"color":"transparent"},
{"offset":0.624,"color":"transparent"},{"offset":0.624,"color":"white"},{"offset":0.628,"color":"white"},{"offset":0.628,"color":"transparent"},
{"offset":0.653,"color":"transparent"},{"offset":0.653,"color":"white"},{"offset":0.657,"color":"white"},{"offset":0.657,"color":"transparent"},
{"offset":0.682,"color":"transparent"},{"offset":0.682,"color":"white"},{"offset":0.686,"color":"white"},{"offset":0.686,"color":"transparent"},
{"offset":0.711,"color":"transparent"},{"offset":0.711,"color":"white"},{"offset":0.715,"color":"white"},{"offset":0.715,"color":"transparent"},
{"offset":0.740,"color":"transparent"},{"offset":0.740,"color":"white"},{"offset":0.744,"color":"white"},{"offset":0.744,"color":"transparent"},
{"offset":0.769,"color":"transparent"},{"offset":0.769,"color":"white"},{"offset":0.773,"color":"white"},{"offset":0.773,"color":"transparent"},
{"offset":0.798,"color":"transparent"},{"offset":0.798,"color":"white"},{"offset":0.802,"color":"white"},{"offset":0.802,"color":"transparent"},
{"offset":0.827,"color":"transparent"},{"offset":0.827,"color":"white"},{"offset":0.831,"color":"white"},{"offset":0.831,"color":"transparent"},
{"offset":0.856,"color":"transparent"},{"offset":0.856,"color":"white"},{"offset":0.860,"color":"white"},{"offset":0.860,"color":"transparent"},
{"offset":0.885,"color":"transparent"},{"offset":0.885,"color":"white"},{"offset":0.889,"color":"white"},{"offset":0.889,"color":"transparent"},
{"offset":0.914,"color":"transparent"},{"offset":0.914,"color":"white"},{"offset":0.918,"color":"white"},{"offset":0.918,"color":"transparent"},
{"offset":0.943,"color":"transparent"},{"offset":0.943,"color":"white"},{"offset":0.947,"color":"white"},{"offset":0.947,"color":"transparent"},
{"offset":0.972,"color":"transparent"},{"offset":0.972,"color":"white"},{"offset":0.976,"color":"white"},{"offset":0.976,"color":"transparent"}
]}},
 "encoding": {
  "x": {"field": "label", "type": "nominal", "sort": ["Prognosis","+ first-come, first-served","+ sickest-first","+ autonomy","+ priority","Smoker-preferred weighting"]},
  "y": {"datum": 0, "type": "quantitative", "scale": {"domain": [0, 100], "nice": false}},
  "y2": {"datum": 100}}},
{"data": {"name": "bars"}, "transform": [{"filter": "datum.panel == 'e'"}, {"lookup": "level", "from": {"data": {"name": "levels"}, "key": "level", "fields": ["rank"]}}, {"stack": "value", "groupby": ["label"], "sort": [{"field": "rank", "order": "ascending"}], "as": ["v0", "v1"]}, {"filter": "datum.level != 'medium'"}],
 "mark": {"type": "bar"},
 "encoding": {
  "x": {"field": "label", "type": "nominal", "sort": ["Prognosis","+ first-come, first-served","+ sickest-first","+ autonomy","+ priority","Smoker-preferred weighting"]},
  "y": {"field": "v0", "type": "quantitative", "scale": {"domain": [0, 100], "nice": false}},
  "y2": {"field": "v1"},
  "color": {"field": "level", "type": "nominal", "scale": {"domain": ["low","medium","high"], "range": ["#b9c7ea","#c9e8fc","#cadcab"]}, "legend": {"title": "Criterion value"}}}},
{"data": {"name": "bars"}, "transform": [{"filter": "datum.panel == 'e'"}, {"lookup": "level", "from": {"data": {"name": "levels"}, "key": "level", "fields": ["rank"]}}, {"stack": "value", "groupby": ["label"], "sort": [{"field": "rank", "order": "ascending"}], "as": ["v0", "v1"]}, {"filter": "datum.level == 'high'"}],
 "mark": {"type": "rule", "color": "white", "strokeWidth": 14, "strokeDash": [1, 9.7], "opacity": 0.85},
 "encoding": {
  "x": {"field": "label", "type": "nominal", "sort": ["Prognosis","+ first-come, first-served","+ sickest-first","+ autonomy","+ priority","Smoker-preferred weighting"]},
  "y": {"field": "v1", "type": "quantitative", "scale": {"domain": [0, 100], "nice": false}},
  "y2": {"field": "v0"}}},
{"data": {"name": "highlights"}, "transform": [{"filter": "datum.panel == 'e'"}],
 "mark": {"type": "bar", "fillOpacity": 0, "stroke": "#7f7f7f", "strokeWidth": 2.5},
 "encoding": {
  "x": {"field": "label", "type": "nominal", "sort": ["Prognosis","+ first-come, first-served","+ sickest-first","+ autonomy","+ priority","Smoker-preferred weighting"]},
  "y": {"datum": 0, "type": "quantitative", "scale": {"domain": [0, 100], "nice": false}},
  "y2": {"datum": 100}}}
]
}
],
"config": {
 "font": "DejaVu Sans",
 "view": {"stroke": "#808080", "strokeWidth": 1.5},
 "axis": {"grid": false, "ticks": false, "domain": false, "labelColor": "#262626", "titleColor": "#262626", "labelFont": "DejaVu Sans"},
 "axisX": {"labelFontSize": 16, "labelAngle": -90, "labelPadding": 4, "labelLimit": 400, "titleFont": "DejaVu Sans", "titleFontSize": 18, "titleFontWeight": "bold"},
 "axisY": {"labelFontSize": 15, "labelPadding": 7, "tickCount": 6, "titleFont": "Liberation Sans", "titleFontSize": 22, "titleFontWeight": "normal", "titleColor": "black", "titleLineHeight": 23, "titlePadding": 4},
 "legend": {"orient": "none", "legendX": 771, "legendY": 150, "symbolType": "M-1.5625,-0.5H1.5625V0.5H-1.5625Z", "symbolSize": 256, "symbolOffset": 10, "symbolStrokeWidth": 0, "symbolOpacity": 1, "strokeColor": "#cccccc", "fillColor": "white", "padding": 6, "cornerRadius": 3, "titleFont": "DejaVu Sans", "titleFontSize": 13, "titleFontWeight": "normal", "titleColor": "#262626", "labelFont": "DejaVu Sans", "labelFontSize": 13, "labelColor": "#262626", "rowPadding": 4, "labelOffset": 13.5, "titlePadding": 3}
}
}
